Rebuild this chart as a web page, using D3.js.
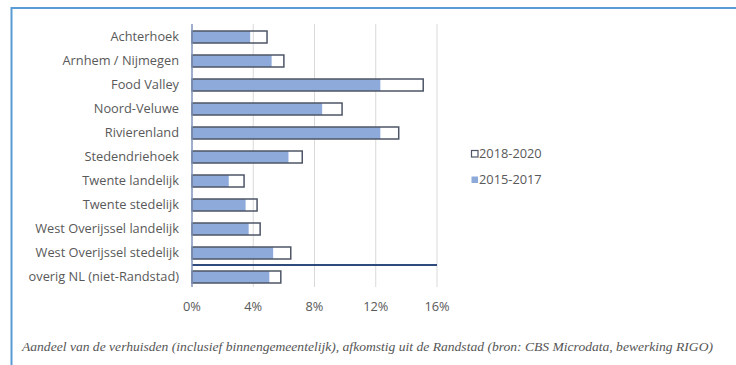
<!DOCTYPE html>
<html>
<head>
<meta charset="utf-8">
<script src="https://cdn.jsdelivr.net/npm/d3@7"></script>
<style>
  body { margin: 0; background: #fff; }
  svg { display: block; }
</style>
</head>
<body>
<div id="chart"></div>
<script>
// Aandeel verhuisden afkomstig uit de Randstad, per regio
const categories = [
    'Achterhoek', 'Arnhem / Nijmegen', 'Food Valley', 'Noord-Veluwe', 'Rivierenland',
    'Stedendriehoek', 'Twente landelijk', 'Twente stedelijk', 'West Overijssel landelijk',
    'West Overijssel stedelijk', 'overig NL (niet-Randstad)'
];
const values20152017 = [3.8, 5.2, 12.3, 8.5, 12.3, 6.3, 2.4, 3.5, 3.7, 5.3, 5.05];
const values20182020 = [4.9, 6.0, 15.1, 9.8, 13.5, 7.2, 3.4, 4.25, 4.45, 6.45, 5.8];
const xTicks = [0, 4, 8, 12, 16];
const legendItems = ['2018-2020', '2015-2017'];
const caption = 'Aandeel van de verhuisden (inclusief binnengemeentelijk), afkomstig uit de Randstad (bron: CBS Microdata, bewerking RIGO)';

const W = 736, H = 365;
const textColor = '#595959';
const blue = '#8eaadb';
const outline = '#4d5566';
const font = 'Open Sans, sans-serif';

const svg = d3.select('#chart').append('svg')
    .attr('width', W)
    .attr('height', H);

// Frame (top + left edge visible)
svg.append('path')
    .attr('d', `M11.5,${H} V8 H${W}`)
    .attr('fill', 'none')
    .attr('stroke', '#5b9bd5')
    .attr('stroke-width', 2);

const x = d3.scaleLinear().domain([0, 16]).range([192, 437]);
const y = d3.scaleBand().domain(categories).range([25, 289]).paddingInner(0.5).paddingOuter(0.25);

// Gridlines
svg.append('g')
    .selectAll('line')
    .data(xTicks.slice(1))
    .join('line')
    .attr('x1', d => x(d)).attr('x2', d => x(d))
    .attr('y1', 24).attr('y2', 287)
    .attr('stroke', '#d9d9d9')
    .attr('stroke-width', 1);

// 2015-2017 bars (filled)
svg.append('g')
    .selectAll('rect')
    .data(categories)
    .join('rect')
    .attr('x', x(0))
    .attr('y', d => y(d))
    .attr('width', (d, i) => x(values20152017[i]) - x(0))
    .attr('height', y.bandwidth())
    .attr('fill', blue);

// 2018-2020 bars (outline only)
svg.append('g')
    .selectAll('rect')
    .data(categories)
    .join('rect')
    .attr('x', x(0))
    .attr('y', d => y(d))
    .attr('width', (d, i) => x(values20182020[i]) - x(0))
    .attr('height', y.bandwidth())
    .attr('fill', 'none')
    .attr('stroke', outline)
    .attr('stroke-width', 1.5);

// separator line above 'overig NL'
const sepY = (y(categories[9]) + y.bandwidth() + y(categories[10])) / 2;
svg.append('line')
    .attr('x1', x(0)).attr('x2', x(16))
    .attr('y1', sepY).attr('y2', sepY)
    .attr('stroke', '#2f4b7c')
    .attr('stroke-width', 2);

// Axis line
svg.append('line')
    .attr('x1', x(0)).attr('x2', x(0))
    .attr('y1', 24).attr('y2', 287)
    .attr('stroke', '#7f93b8')
    .attr('stroke-width', 1.5);

// Category labels
svg.append('g')
    .selectAll('text')
    .data(categories)
    .join('text')
    .attr('x', 179)
    .attr('y', d => y(d) + y.bandwidth() / 2)
    .attr('dy', '0.35em')
    .attr('text-anchor', 'end')
    .attr('fill', textColor)
    .attr('font-family', font)
    .attr('font-size', '12.8px')
    .text(d => d);

// X tick labels
svg.append('g')
    .selectAll('text')
    .data(xTicks)
    .join('text')
    .attr('x', d => x(d))
    .attr('y', 307)
    .attr('dy', '0.35em')
    .attr('text-anchor', 'middle')
    .attr('fill', textColor)
    .attr('font-family', font)
    .attr('font-size', '12.8px')
    .text(d => d + '%');

// Legend
const legend = svg.append('g')
    .selectAll('g')
    .data(legendItems)
    .join('g')
    .attr('transform', (d, i) => `translate(471, ${154 + i * 26})`);

legend.append('rect')
    .attr('x', 0.5).attr('y', -3.5)
    .attr('width', 6.5).attr('height', 6.5)
    .attr('fill', (d, i) => i === 0 ? 'none' : blue)
    .attr('stroke', (d, i) => i === 0 ? outline : 'none')
    .attr('stroke-width', 1.2);

legend.append('text')
    .attr('x', 8)
    .attr('dy', '0.35em')
    .attr('fill', textColor)
    .attr('font-family', font)
    .attr('font-size', '12.8px')
    .text(d => d);

// Caption
svg.append('text')
    .attr('x', 22)
    .attr('y', 346)
    .attr('dy', '0.35em')
    .attr('fill', '#555')
    .attr('font-family', 'Liberation Serif, serif')
    .attr('font-style', 'italic')
    .attr('font-size', '13.5px')
    .attr('textLength', 691)
    .attr('lengthAdjust', 'spacingAndGlyphs')
    .text(caption);
</script>
</body>
</html>
